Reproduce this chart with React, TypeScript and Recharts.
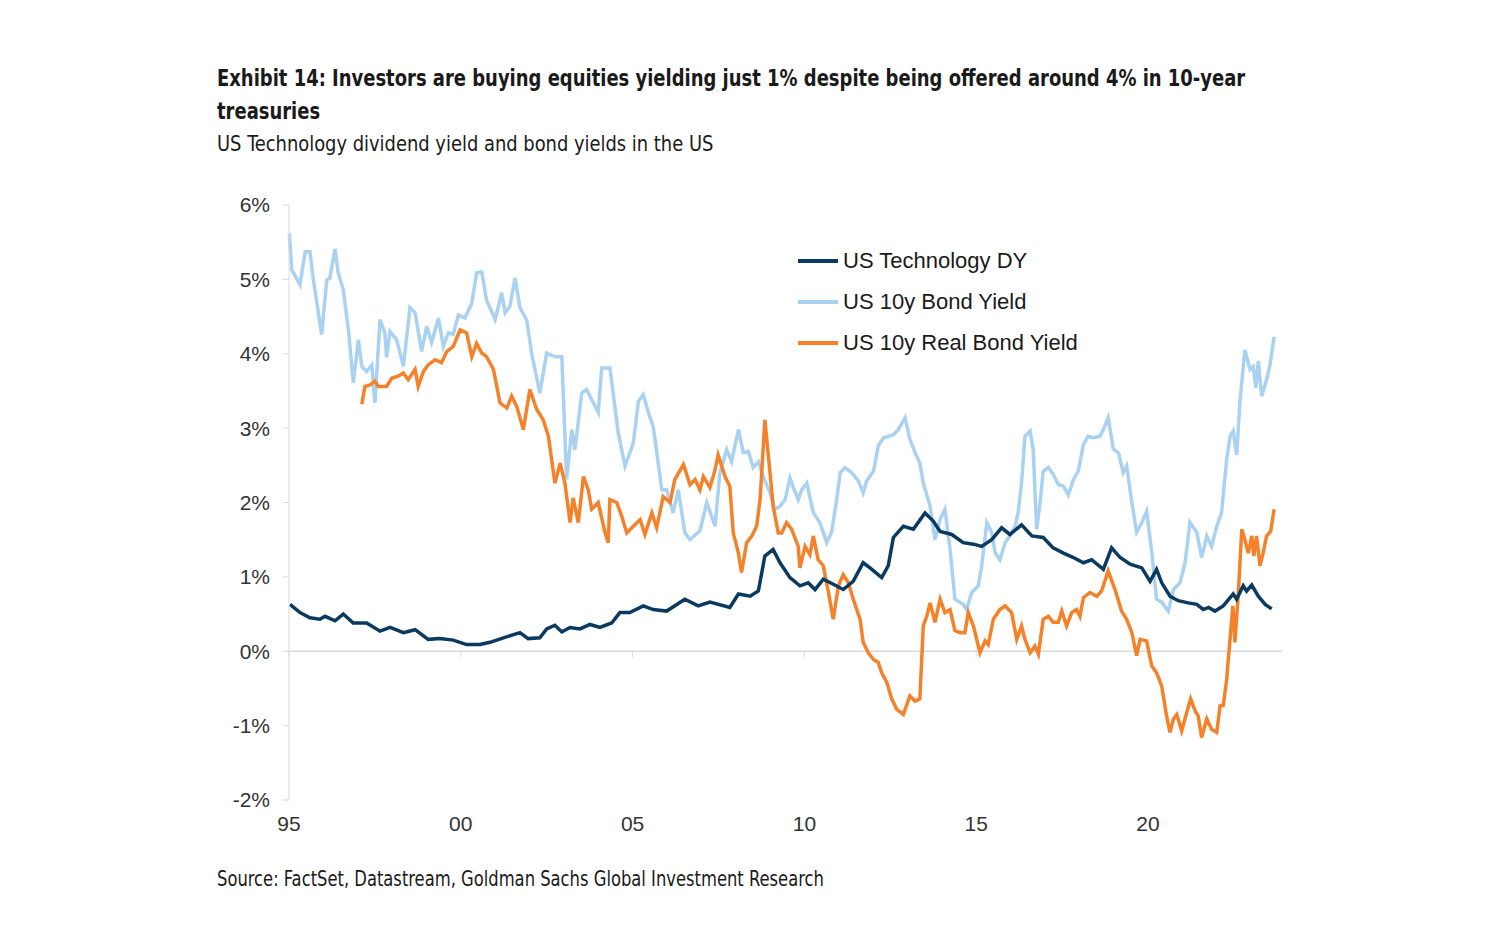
import { LineChart, Line, XAxis, YAxis, ReferenceLine } from 'recharts';

// [year, %]
const techDY: [number, number][] = [
  [1995.03, 0.63], [1995.32, 0.52], [1995.61, 0.45], [1995.9, 0.43], [1996.05, 0.47], [1996.34, 0.41],
  [1996.58, 0.5], [1996.87, 0.38], [1997.26, 0.38], [1997.65, 0.27], [1997.94, 0.32], [1998.33, 0.25],
  [1998.67, 0.29], [1999.05, 0.16], [1999.39, 0.17], [1999.78, 0.15], [2000.17, 0.09], [2000.56, 0.09],
  [2000.85, 0.12], [2001.24, 0.18], [2001.72, 0.25], [2001.96, 0.17], [2002.3, 0.18], [2002.5, 0.3],
  [2002.74, 0.35], [2002.94, 0.26], [2003.18, 0.32], [2003.47, 0.3], [2003.76, 0.36], [2004.05, 0.32],
  [2004.39, 0.38], [2004.63, 0.52], [2004.92, 0.52], [2005.31, 0.61], [2005.6, 0.56], [2005.99, 0.54],
  [2006.52, 0.7], [2006.91, 0.61], [2007.25, 0.66], [2007.83, 0.59], [2008.08, 0.77], [2008.42, 0.74],
  [2008.66, 0.81], [2008.85, 1.28], [2009.09, 1.37], [2009.29, 1.19], [2009.58, 0.99], [2009.87, 0.88],
  [2010.11, 0.92], [2010.31, 0.83], [2010.55, 0.97], [2010.84, 0.9], [2011.13, 0.83], [2011.42, 0.94],
  [2011.71, 1.19], [2011.91, 1.12], [2012.25, 0.99], [2012.44, 1.15], [2012.59, 1.53], [2012.88, 1.68],
  [2013.17, 1.64], [2013.51, 1.86], [2013.75, 1.75], [2013.95, 1.61], [2014.29, 1.57], [2014.62, 1.46],
  [2014.92, 1.44], [2015.16, 1.41], [2015.45, 1.5], [2015.74, 1.66], [2015.98, 1.57], [2016.32, 1.7],
  [2016.62, 1.55], [2016.95, 1.53], [2017.24, 1.39], [2017.54, 1.32], [2017.83, 1.26], [2018.12, 1.19],
  [2018.36, 1.23], [2018.7, 1.1], [2018.94, 1.39], [2019.19, 1.26], [2019.48, 1.17], [2019.82, 1.12],
  [2020.06, 0.94], [2020.25, 1.1], [2020.4, 0.92], [2020.64, 0.74], [2020.88, 0.68], [2021.17, 0.65],
  [2021.42, 0.63], [2021.61, 0.56], [2021.76, 0.59], [2021.95, 0.54], [2022.19, 0.61], [2022.48, 0.77],
  [2022.58, 0.7], [2022.77, 0.88], [2022.87, 0.81], [2023.02, 0.89], [2023.21, 0.74], [2023.41, 0.63],
  [2023.6, 0.57],
];

const bondYield: [number, number][] = [
  [1995.01, 5.62], [1995.08, 5.13], [1995.32, 4.93], [1995.47, 5.37], [1995.61, 5.37], [1995.71, 4.99],
  [1995.95, 4.26], [1996.1, 4.99], [1996.19, 5.02], [1996.34, 5.41], [1996.43, 5.09], [1996.58, 4.86],
  [1996.73, 4.32], [1996.87, 3.61], [1997.02, 4.19], [1997.12, 3.83], [1997.26, 3.76], [1997.41, 3.85],
  [1997.5, 3.34], [1997.65, 4.46], [1997.79, 4.28], [1997.84, 3.95], [1997.94, 4.3], [1998.13, 4.19],
  [1998.33, 3.83], [1998.52, 4.62], [1998.67, 4.55], [1998.86, 4.03], [1999.01, 4.37], [1999.15, 4.15],
  [1999.35, 4.48], [1999.49, 4.1], [1999.64, 4.28], [1999.78, 4.26], [1999.93, 4.52], [2000.12, 4.48],
  [2000.32, 4.68], [2000.46, 5.09], [2000.61, 5.1], [2000.75, 4.72], [2001.0, 4.46], [2001.19, 4.82],
  [2001.29, 4.55], [2001.43, 4.64], [2001.58, 5.02], [2001.72, 4.62], [2001.92, 4.45], [2002.06, 4.01],
  [2002.3, 3.47], [2002.5, 4.01], [2002.74, 3.96], [2002.94, 3.96], [2003.08, 2.31], [2003.23, 2.98],
  [2003.32, 2.71], [2003.52, 3.47], [2003.66, 3.52], [2004.0, 3.21], [2004.1, 3.81], [2004.34, 3.81],
  [2004.58, 2.94], [2004.78, 2.49], [2005.02, 2.8], [2005.17, 3.36], [2005.31, 3.45], [2005.46, 3.21],
  [2005.6, 3.02], [2005.85, 2.17], [2005.99, 2.17], [2006.18, 1.86], [2006.33, 2.17], [2006.52, 1.6],
  [2006.67, 1.5], [2006.96, 1.62], [2007.16, 2.0], [2007.4, 1.68], [2007.54, 2.4], [2007.74, 2.71],
  [2007.88, 2.55], [2008.08, 2.98], [2008.22, 2.67], [2008.37, 2.69], [2008.51, 2.47], [2008.66, 2.55],
  [2008.8, 2.35], [2009.0, 2.13], [2009.14, 1.91], [2009.29, 1.95], [2009.44, 2.04], [2009.58, 2.33],
  [2009.68, 2.2], [2009.82, 2.04], [2009.92, 2.17], [2010.07, 2.26], [2010.26, 1.86], [2010.45, 1.73],
  [2010.65, 1.46], [2010.79, 1.6], [2010.94, 2.04], [2011.04, 2.4], [2011.18, 2.47], [2011.38, 2.4],
  [2011.57, 2.29], [2011.71, 2.13], [2011.81, 2.29], [2012.01, 2.42], [2012.15, 2.76], [2012.3, 2.87],
  [2012.44, 2.89], [2012.59, 2.91], [2012.73, 2.98], [2012.93, 3.14], [2013.07, 2.85], [2013.22, 2.67],
  [2013.36, 2.53], [2013.46, 2.26], [2013.66, 1.95], [2013.8, 1.5], [2013.95, 1.77], [2014.09, 1.91],
  [2014.24, 1.37], [2014.38, 0.7], [2014.62, 0.63], [2014.72, 0.56], [2014.87, 0.79], [2015.06, 0.88],
  [2015.16, 1.15], [2015.31, 1.73], [2015.45, 1.6], [2015.55, 1.33], [2015.69, 1.23], [2015.84, 1.46],
  [2015.98, 1.55], [2016.13, 1.68], [2016.22, 1.86], [2016.32, 2.26], [2016.42, 2.89], [2016.57, 2.96],
  [2016.66, 2.71], [2016.76, 1.64], [2016.86, 2.0], [2016.95, 2.42], [2017.1, 2.47], [2017.24, 2.38],
  [2017.39, 2.24], [2017.54, 2.22], [2017.68, 2.1], [2017.83, 2.31], [2017.97, 2.42], [2018.12, 2.78],
  [2018.26, 2.89], [2018.41, 2.87], [2018.6, 2.89], [2018.7, 2.98], [2018.84, 3.14], [2018.99, 2.72],
  [2019.14, 2.67], [2019.28, 2.4], [2019.38, 2.49], [2019.53, 2.0], [2019.67, 1.6], [2019.82, 1.73],
  [2019.96, 1.88], [2020.11, 1.33], [2020.25, 0.7], [2020.4, 0.66], [2020.59, 0.54], [2020.74, 0.83],
  [2020.93, 0.92], [2021.08, 1.19], [2021.22, 1.73], [2021.42, 1.6], [2021.56, 1.26], [2021.71, 1.55],
  [2021.85, 1.41], [2022.0, 1.68], [2022.14, 1.86], [2022.29, 2.58], [2022.39, 2.89], [2022.48, 2.96],
  [2022.58, 2.64], [2022.68, 3.38], [2022.82, 4.05], [2022.97, 3.79], [2023.06, 3.83], [2023.14, 3.54],
  [2023.21, 3.9], [2023.31, 3.43], [2023.45, 3.65], [2023.55, 3.85], [2023.67, 4.23],
];

const realYield: [number, number][] = [
  [1997.12, 3.32], [1997.21, 3.56], [1997.36, 3.58], [1997.5, 3.63], [1997.6, 3.56], [1997.84, 3.56],
  [1997.99, 3.67], [1998.18, 3.7], [1998.33, 3.74], [1998.47, 3.65], [1998.67, 3.79], [1998.76, 3.56],
  [1998.91, 3.76], [1999.05, 3.85], [1999.25, 3.92], [1999.44, 3.88], [1999.59, 4.03], [1999.78, 4.1],
  [1999.98, 4.32], [2000.17, 4.28], [2000.32, 3.96], [2000.46, 4.14], [2000.61, 4.01], [2000.75, 3.96],
  [2000.95, 3.79], [2001.14, 3.34], [2001.34, 3.27], [2001.48, 3.43], [2001.63, 3.29], [2001.82, 2.98],
  [2002.01, 3.52], [2002.21, 3.25], [2002.4, 3.11], [2002.55, 2.89], [2002.74, 2.26], [2002.89, 2.53],
  [2003.03, 2.26], [2003.18, 1.73], [2003.27, 2.06], [2003.42, 1.73], [2003.57, 2.35], [2003.71, 2.17],
  [2003.81, 1.91], [2004.0, 2.0], [2004.2, 1.59], [2004.29, 1.46], [2004.34, 2.04], [2004.54, 2.0],
  [2004.68, 1.82], [2004.83, 1.59], [2005.02, 1.68], [2005.22, 1.77], [2005.36, 1.57], [2005.56, 1.86],
  [2005.7, 1.66], [2005.89, 2.08], [2006.09, 2.0], [2006.23, 2.31], [2006.48, 2.51], [2006.67, 2.24],
  [2006.82, 2.31], [2006.96, 2.17], [2007.06, 2.35], [2007.25, 2.2], [2007.4, 2.44], [2007.49, 2.64],
  [2007.69, 2.35], [2007.83, 2.22], [2007.93, 1.59], [2008.08, 1.32], [2008.17, 1.06], [2008.32, 1.46],
  [2008.47, 1.55], [2008.61, 1.68], [2008.71, 2.04], [2008.85, 3.11], [2009.0, 2.4], [2009.09, 1.95],
  [2009.24, 1.59], [2009.34, 1.59], [2009.48, 1.73], [2009.63, 1.64], [2009.82, 1.41], [2009.87, 1.12],
  [2010.02, 1.41], [2010.16, 1.3], [2010.26, 1.55], [2010.4, 1.23], [2010.55, 1.15], [2010.7, 0.79],
  [2010.84, 0.43], [2010.99, 0.88], [2011.13, 1.03], [2011.28, 0.92], [2011.42, 0.7], [2011.62, 0.43],
  [2011.71, 0.12], [2011.86, -0.02], [2012.01, -0.11], [2012.15, -0.15], [2012.25, -0.29], [2012.4, -0.42],
  [2012.54, -0.64], [2012.69, -0.78], [2012.88, -0.85], [2013.07, -0.6], [2013.22, -0.67], [2013.36, -0.64],
  [2013.46, 0.34], [2013.56, 0.47], [2013.66, 0.65], [2013.8, 0.39], [2013.95, 0.7], [2014.09, 0.52],
  [2014.24, 0.56], [2014.38, 0.28], [2014.53, 0.25], [2014.67, 0.25], [2014.77, 0.52], [2014.92, 0.34],
  [2015.11, -0.02], [2015.26, 0.14], [2015.35, 0.09], [2015.5, 0.43], [2015.69, 0.56], [2015.84, 0.61],
  [2016.03, 0.52], [2016.18, 0.16], [2016.32, 0.34], [2016.42, 0.16], [2016.57, -0.02], [2016.71, 0.07],
  [2016.81, -0.04], [2016.95, 0.43], [2017.1, 0.47], [2017.24, 0.39], [2017.39, 0.39], [2017.49, 0.54],
  [2017.63, 0.34], [2017.78, 0.52], [2017.92, 0.56], [2018.02, 0.47], [2018.12, 0.72], [2018.31, 0.79],
  [2018.51, 0.74], [2018.65, 0.81], [2018.84, 1.08], [2019.04, 0.83], [2019.23, 0.54], [2019.38, 0.43],
  [2019.53, 0.25], [2019.67, -0.06], [2019.77, 0.16], [2019.96, 0.14], [2020.11, -0.2], [2020.25, -0.29],
  [2020.4, -0.47], [2020.54, -0.87], [2020.64, -1.09], [2020.74, -0.91], [2020.84, -0.85], [2020.98, -1.07],
  [2021.13, -0.82], [2021.24, -0.64], [2021.37, -0.8], [2021.46, -0.87], [2021.56, -1.16], [2021.71, -0.91],
  [2021.85, -1.05], [2022.0, -1.09], [2022.1, -0.73], [2022.19, -0.73], [2022.29, -0.38], [2022.37, 0.07],
  [2022.47, 0.61], [2022.53, 0.12], [2022.63, 0.79], [2022.73, 1.64], [2022.82, 1.5], [2022.92, 1.32],
  [2023.02, 1.55], [2023.08, 1.28], [2023.16, 1.55], [2023.26, 1.15], [2023.35, 1.32], [2023.45, 1.55],
  [2023.57, 1.61], [2023.67, 1.91],
];

const yTicks = [-2, -1, 0, 1, 2, 3, 4, 5, 6];
const xTicks = [1995, 2000, 2005, 2010, 2015, 2020];
const xLabels = ['95', '00', '05', '10', '15', '20'];

const seriesNames = ['US Technology DY', 'US 10y Bond Yield', 'US 10y Real Bond Yield'];
const seriesColors = ['#0a3a60', '#a9d2f2', '#f5822a'];

const toRows = (pts: [number, number][]) => pts.map(([t, v]) => ({ t, v }));

const condensed = '"Liberation Sans Narrow", "DejaVu Sans Condensed", "Roboto", sans-serif';
const arial = '"Liberation Sans", Arial, sans-serif';

// squeeze a text horizontally, the reference uses a condensed face we don't have
function Squeezed({ left, top, scale, style, children }: any) {
  return (
    <div
      style={{
        position: 'absolute',
        left,
        top,
        whiteSpace: 'nowrap',
        transform: `scaleX(${scale})`,
        transformOrigin: 'left top',
        fontFamily: condensed,
        color: '#1a1a1a',
        ...style,
      }}
    >
      {children}
    </div>
  );
}

function LegendBox() {
  return (
    <div style={{ position: 'absolute', left: 798, top: 240, fontFamily: arial, fontSize: 22, color: '#1a1a1a' }}>
      {seriesNames.map((name, i) => (
        <div key={name} style={{ display: 'flex', alignItems: 'center', height: 41 }}>
          <span style={{ display: 'inline-block', width: 40, height: 4, background: seriesColors[i], marginRight: 5 }} />
          <span>{name}</span>
        </div>
      ))}
    </div>
  );
}

export default function App() {
  return (
    <div style={{ position: 'absolute', left: 0, top: 0, width: 1500, height: 938, background: '#fff' }}>
      <Squeezed left={217} top={62} scale={0.868} style={{ fontWeight: 700, fontSize: 23, lineHeight: '33px' }}>
        Exhibit 14: Investors are buying equities yielding just 1% despite being offered around 4% in 10-year
        <br />
        treasuries
      </Squeezed>
      <Squeezed left={217} top={132} scale={0.947} style={{ fontSize: 21 }}>
        US Technology dividend yield and bond yields in the US
      </Squeezed>
      <Squeezed left={217} top={867} scale={0.866} style={{ fontSize: 21 }}>
        Source: FactSet, Datastream, Goldman Sachs Global Investment Research
      </Squeezed>
      <LineChart
        width={1500}
        height={938}
        margin={{ top: 205, right: 218, bottom: 98, left: 229 }}
        style={{ position: 'absolute', left: 0, top: 0 }}
      >
        <XAxis
          dataKey="t"
          type="number"
          domain={[1995, 2023.9]}
          ticks={xTicks}
          tickFormatter={(v: number) => xLabels[xTicks.indexOf(v)] ?? ''}
          axisLine={false}
          tickLine={false}
          tickSize={0}
          tickMargin={16}
          height={40}
          tick={{ fontFamily: arial, fontSize: 21, fill: '#333' }}
          allowDuplicatedCategory={false}
        />
        <YAxis
          type="number"
          domain={[-2, 6]}
          ticks={yTicks}
          tickFormatter={(v: number) => `${v}%`}
          width={60}
          stroke="#d9d9d9"
          tickSize={6}
          tickMargin={13}
          tick={{ fontFamily: arial, fontSize: 21, fill: '#333' }}
        />
        <ReferenceLine y={0} stroke="#d9d9d9" strokeWidth={1.5} />
        {xTicks.map((t) => (
          <ReferenceLine key={t} segment={[{ x: t, y: 0 }, { x: t, y: -0.08 }]} stroke="#d9d9d9" />
        ))}
        <Line data={toRows(bondYield)} dataKey="v" name={seriesNames[1]} stroke={seriesColors[1]} strokeWidth={3.5} dot={false} isAnimationActive={false} />
        <Line data={toRows(realYield)} dataKey="v" name={seriesNames[2]} stroke={seriesColors[2]} strokeWidth={3.5} dot={false} isAnimationActive={false} />
        <Line data={toRows(techDY)} dataKey="v" name={seriesNames[0]} stroke={seriesColors[0]} strokeWidth={3.5} dot={false} isAnimationActive={false} />
      </LineChart>
      <LegendBox />
    </div>
  );
}
